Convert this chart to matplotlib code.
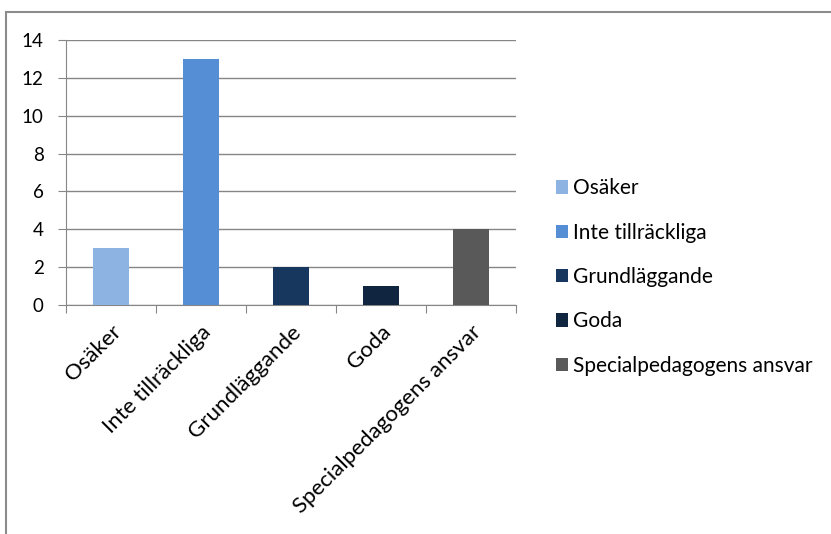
import matplotlib.pyplot as plt
from matplotlib.patches import Rectangle, Patch

categories = ['Osäker', 'Inte tillräckliga', 'Grundläggande', 'Goda', 'Specialpedagogens ansvar']
values = [3, 13, 2, 1, 4]
colors = ['#8DB3E2', '#558ED5', '#17375E', '#10253F', '#595959']
yticks = [0, 2, 4, 6, 8, 10, 12, 14]

plt.rcParams['font.family'] = ['Lato', 'DejaVu Sans']

fig = plt.figure(figsize=(8.31, 5.34), dpi=100)
# outer chart frame (only top and left visible in the reference)
fig.patches.append(Rectangle((6 / 831, -0.1), 1.1, 1 - 12 / 534 + 0.1,
                             transform=fig.transFigure, fill=False,
                             edgecolor='#8C8C8C', linewidth=1.5))

ax = fig.add_axes([66 / 831, 1 - 305 / 534, 450 / 831, 265 / 534])
x = list(range(len(categories)))
ax.bar(x, values, width=0.4, color=colors, zorder=3)

ax.set_xlim(-0.5, len(categories) - 0.5)
ax.set_ylim(0, 14)
ax.set_yticks(yticks)
ax.tick_params(axis='y', labelsize=13.5, length=6, color='#868686', pad=10)
ax.yaxis.grid(True, color='#868686', linewidth=1, zorder=0)

ax.set_xticks([i - 0.5 for i in range(len(categories) + 1)])
ax.set_xticklabels([])
ax.set_xticks(x, minor=True)
ax.set_xticklabels(categories, minor=True, rotation=45, ha='right',
                   rotation_mode='anchor', fontsize=16)
ax.tick_params(axis='x', which='major', length=6, color='#868686')
ax.tick_params(axis='x', which='minor', length=0, pad=12)

for s in ['top', 'right']:
    ax.spines[s].set_visible(False)
for s in ['left', 'bottom']:
    ax.spines[s].set_color('#868686')

handles = [Patch(facecolor=c, edgecolor='none') for c in colors]
fig.legend(handles, categories, loc='center left',
           bbox_to_anchor=(537 / 831, 1 - 277 / 534), frameon=False,
           fontsize=15, handlelength=0.6, handleheight=0.6,
           handletextpad=0.25, labelspacing=1.17)

fig.savefig('out.png', dpi=100)
